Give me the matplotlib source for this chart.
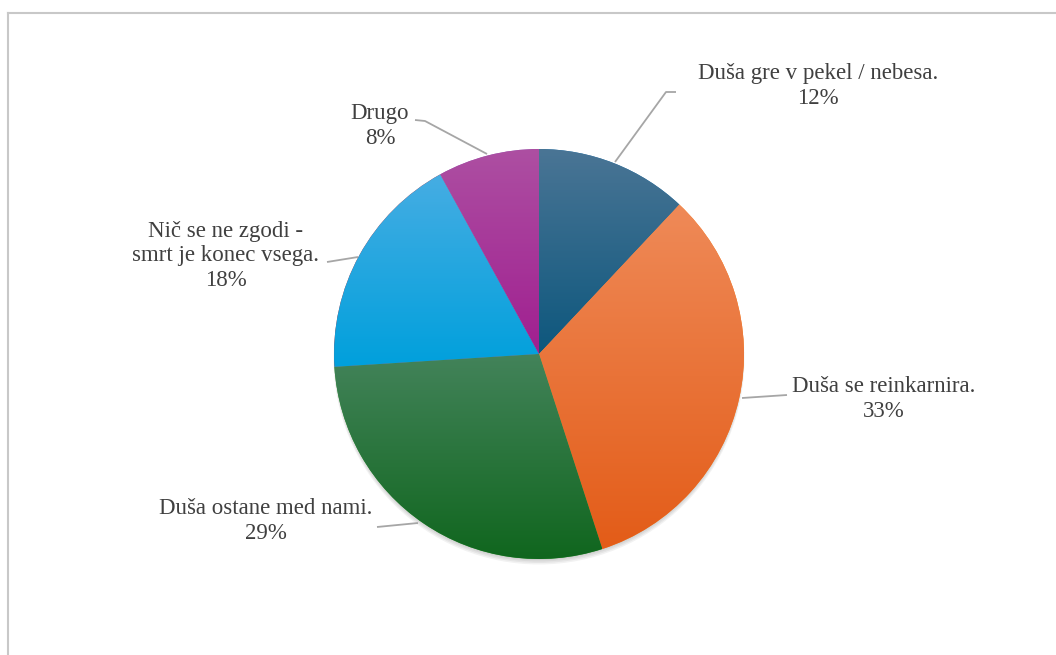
import numpy as np
import matplotlib.pyplot as plt
from matplotlib.colors import LinearSegmentedColormap
from matplotlib.patches import Circle

# podatki
labels = ["Duša gre v pekel / nebesa.", "Duša se reinkarnira.", "Duša ostane med nami.",
          "Nič se ne zgodi -\nsmrt je konec vsega.", "Drugo"]
values = [12, 33, 29, 18, 8]

# barve (zgoraj svetlejse, spodaj temnejse)
top_cols = ["#4a7595", "#ef8a58", "#43835a", "#46ade3", "#ad4fa2"]
bot_cols = ["#0d577d", "#e35c18", "#10661e", "#00a0dc", "#a01f90"]

W, H = 1056, 655
fig = plt.figure(figsize=(W / 100, H / 100), dpi=100)
ax = fig.add_axes([0, 0, 1, 1])

def Y(y):  # piksli od zgoraj -> koordinate osi
    return H - y

cx, cy, r = 539, Y(354), 205

# senca pod torto
for i in range(4):
    ax.add_patch(Circle((cx, cy - 2 - i), r - 1 + i * 0.5, color="black", alpha=0.05, lw=0, zorder=1))

wedges, _ = ax.pie(values, startangle=90, counterclock=False, center=(cx, cy), radius=r,
                   wedgeprops=dict(linewidth=0), frame=True)
ax.set_xlim(0, W)
ax.set_ylim(0, H)
ax.set_aspect("equal")
ax.axis("off")

for w, c1, c2 in zip(wedges, top_cols, bot_cols):
    w.set_zorder(2)
    ext = w.get_path().get_extents()
    cmap = LinearSegmentedColormap.from_list("g", [c1, c2])
    grad = np.linspace(0, 1, 256).reshape(-1, 1)
    im = ax.imshow(grad, cmap=cmap, aspect="auto", origin="upper",
                   extent=[ext.x0, ext.x1, ext.y0, ext.y1], zorder=3)
    im.set_clip_path(w)

txt_col = "#404040"
pcts = [f"{v}%" for v in values]
label_pos = [(818, 86), (884, 399), (266, 521), (226, 256), (380, 126)]
for lab, p, (x, y) in zip(labels, pcts, label_pos):
    ax.text(x, Y(y), lab + "\n" + p, ha="center", va="center", fontsize=16.5,
            color=txt_col, linespacing=1.2, family=["Liberation Serif", "DejaVu Serif"])

# povezovalne crte
leaders = [
    [(615, 162), (666, 92), (676, 92)],
    [(742, 398), (787, 395)],
    [(418, 523), (377, 527)],
    [(358, 257), (327, 262)],
    [(487, 154), (425, 121), (415, 120)],
]
for pts in leaders:
    xs = [p[0] for p in pts]
    ys = [Y(p[1]) for p in pts]
    ax.plot(xs, ys, color="#a6a6a6", lw=1.3, zorder=4, solid_capstyle="butt")

# okvir (zgoraj in levo)
ax.plot([7.5, W], [Y(12.5), Y(12.5)], color="#c8c8c8", lw=1.5, zorder=5)
ax.plot([7.5, 7.5], [Y(12.5), 0], color="#c8c8c8", lw=1.5, zorder=5)

fig.savefig("out.png", dpi=100)
